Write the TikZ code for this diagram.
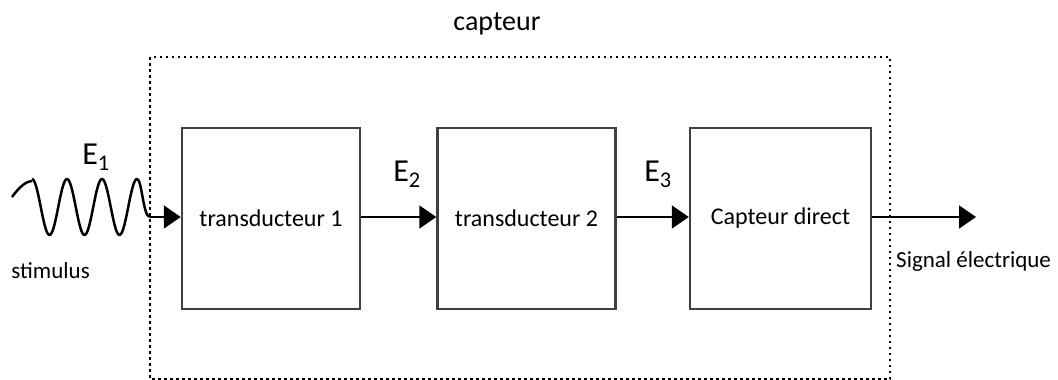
\documentclass[tikz,border=0pt]{standalone}
\usepackage{fontspec}
\setmainfont{Carlito}
\usetikzlibrary{arrows.meta}
\tikzset{
  blockbox/.style={draw=black!75, line width=2.5pt, minimum width=178pt, minimum height=181pt, inner sep=0pt, font=\fontsize{24}{27}\selectfont},
  sig/.style={line width=2pt, -{Triangle[length=17pt,width=23pt]}},
  elab/.style={font=\fontsize{32}{36}\selectfont, inner sep=0pt},
  txt/.style={font=\fontsize{23}{26}\selectfont, inner sep=0pt},
  dotbox/.style={line width=2.5pt, dash pattern=on 2.5pt off 3.5pt}
}
\begin{document}
\begin{tikzpicture}[x=1pt,y=-1pt]
\useasboundingbox (0,0) rectangle (1058,380);
% capteur enclosure
\draw[dotbox] (150,57) rectangle (890,379);
\node[font=\fontsize{28}{32}\selectfont, inner sep=0pt] (cap) at (497,24) {capteur};
% blocks
\node[blockbox] (b1) at (271,218.5) {transducteur 1};
\node[blockbox] (b2) at (526.5,218.5) {transducteur 2};
\node[blockbox, minimum width=181pt] (b3) at (780.5,218.5) {Capteur direct};
% wave (stimulus)
\draw[line width=2.5pt, line join=round]
  (12,197) .. controls (20,186) and (27,181) .. (32,181)
  plot[domain=32:137, samples=120, smooth] (\x, {207 - 28*cos((\x-32)*10.2857)})
  .. controls (142,179) and (143,217) .. (150,217) coordinate (w);
\draw[sig] (w) -- (b1.west |- w);
\draw[sig] (b1.east |- w) -- (b2.west |- w);
\draw[sig] (b2.east |- w) -- (b3.west |- w);
\coordinate (out) at (976,217);
\draw[sig] (b3.east |- out) -- (out);
% labels
\node[elab] (e1) at (96,157) {E\textsubscript{1}};
\node[elab] (e2) at (407,174) {E\textsubscript{2}};
\node[elab] (e3) at (658,174) {E\textsubscript{3}};
\node[txt, anchor=base east] (stim) at (90,278) {stimulus};
\node[txt, anchor=base west] (sigout) at (896,267) {Signal électrique};
\end{tikzpicture}
\end{document}
